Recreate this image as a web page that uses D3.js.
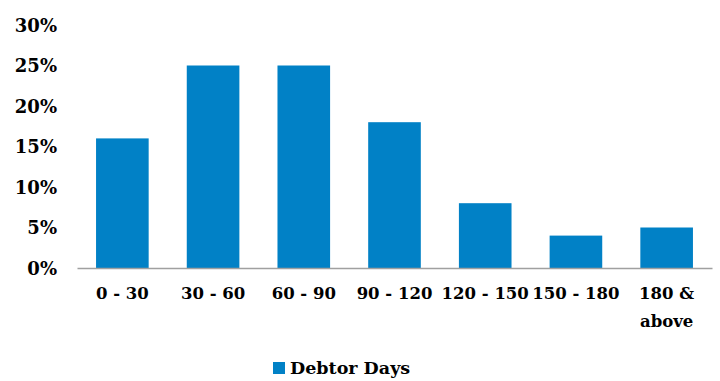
<!DOCTYPE html>
<html>
<head>
<meta charset="utf-8">
<script src="https://cdn.jsdelivr.net/npm/d3@7"></script>
<style>
  body { margin: 0; background: #fff; }
  svg text { font-weight: bold; fill: #000; }
</style>
</head>
<body>
<svg id="chart" width="720" height="381"></svg>
<script>
const categories = ['0 - 30', '30 - 60', '60 - 90', '90 - 120', '120 - 150', '150 - 180', '180 & above']
const debtorDays = [0.16, 0.25, 0.25, 0.18, 0.08, 0.04, 0.05]
const yTicks = [0, 0.05, 0.1, 0.15, 0.2, 0.25, 0.3]
const seriesName = 'Debtor Days'
const serif = 'DejaVu Serif'

const margin = { top: 25, right: 8, bottom: 113, left: 77 },
  w = 720 - margin.left - margin.right,
  h = 381 - margin.top - margin.bottom

const svg = d3.select('#chart')
  .append('g')
  .attr('transform', `translate(${margin.left},${margin.top})`)

const x = d3.scaleBand().domain(categories).range([0, w]).paddingInner(0.42).paddingOuter(0.21)
const y = d3.scaleLinear().domain([0, 0.3]).range([h, 0])

// y axis labels only
const gY = svg.append('g')
  .call(d3.axisLeft(y).tickValues(yTicks).tickFormat(d3.format('.0%')).tickSize(0).tickPadding(20))
gY.select('.domain').remove()
gY.selectAll('text').style('font-family', serif).style('font-size', '18px').attr('dy', '0.35em')

// bars
svg.selectAll('.bar')
  .data(debtorDays)
  .enter()
  .append('rect')
  .attr('class', 'bar')
  .attr('x', (d, i) => x(categories[i]))
  .attr('y', (d) => y(d))
  .attr('width', x.bandwidth())
  .attr('height', (d) => h - y(d))
  .attr('fill', '#0181c6')

// x axis
const gX = svg.append('g')
  .attr('transform', `translate(0,${h})`)
  .call(d3.axisBottom(x).tickSize(0).tickPadding(19))
gX.select('.domain').attr('stroke', '#a0a0a0').attr('stroke-width', 1.5)
gX.selectAll('text').style('font-family', serif).style('font-size', '16.5px').each(function (d) {
  const t = d3.select(this)
  if (d === '180 & above') {
    const yy = t.attr('y')
    t.text(null)
    t.append('tspan').attr('x', 0).attr('y', yy).attr('dy', '0.71em').text('180 &')
    t.append('tspan').attr('x', 0).attr('y', yy).attr('dy', '2.45em').text('above')
  }
})

// legend
const legend = d3.select('#chart').append('g').attr('transform', 'translate(273,362)')
legend.append('rect').attr('width', 12).attr('height', 12).attr('fill', '#0181c6')
legend.append('text').attr('x', 17).attr('y', 6).attr('dy', '0.35em')
  .style('font-family', serif).style('font-size', '17.5px').text(seriesName)
</script>
</body>
</html>
